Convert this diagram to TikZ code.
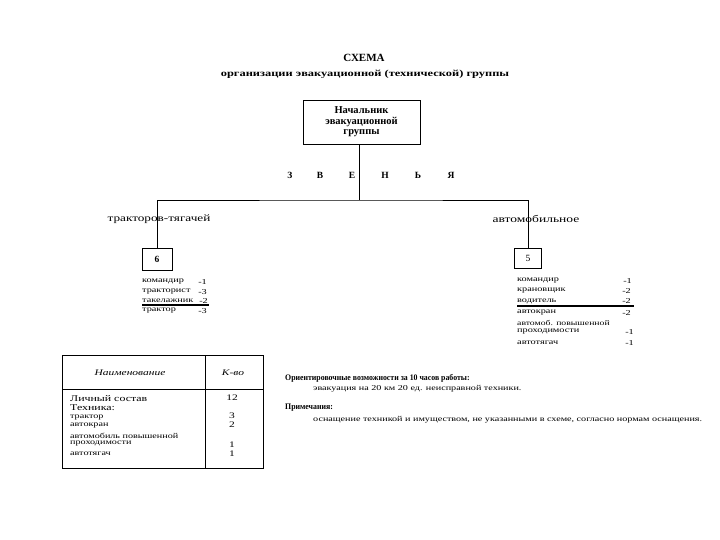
\documentclass[tikz,border=0pt]{standalone}
\usepackage{fontspec}
\setmainfont{Liberation Serif}[FakeStretch=1.35]
\newfontfamily\plainser{Liberation Serif}
\newfontfamily\condser{Liberation Serif}[FakeStretch=0.92]
\tikzset{
  box/.style={draw, line width=0.8pt, inner sep=0pt, align=center},
  lst/.style={font=\fontsize{7.6}{8}\selectfont, inner sep=0pt, anchor=west},
  num/.style={font=\fontsize{7.6}{8}\selectfont, inner sep=0pt, anchor=east},
  tbl/.style={font=\fontsize{7.5}{8}\selectfont, inner sep=0pt, anchor=west},
  tnum/.style={font=\fontsize{8.5}{9}\selectfont, inner sep=0pt},
  let/.style={font=\plainser\bfseries\fontsize{9.5}{10}\selectfont, inner sep=0pt},
  wire/.style={line width=0.7pt},
  uline/.style={line width=1.3pt}
}
\begin{document}
\begin{tikzpicture}[x=1pt,y=-1pt]
\useasboundingbox[fill=white] (0,0) rectangle (720,540);
% titles
\node[font=\plainser\bfseries\fontsize{11}{12}\selectfont, inner sep=0pt] (title) at (364,58) {СХЕМА};
\node[font=\bfseries\fontsize{9.2}{11}\selectfont, inner sep=0pt] (subtitle) at (365,74) {организации эвакуационной (технической) группы};
% chief box
\node[box, minimum width=117pt, minimum height=44pt, font=\plainser\bfseries\fontsize{10.5}{10.5}\selectfont] (chief) at (361.5,122) {Начальник\\эвакуационной\\группы};
% letters
\node[let] (l1) at (290,175) {З};
\node[let] (l2) at (320,175) {В};
\node[let] (l3) at (352,175) {Е};
\node[let] (l4) at (385,175) {Н};
\node[let] (l5) at (418,175) {Ь};
\node[let] (l6) at (451,175) {Я};
% boxes
\node[box, minimum width=30pt, minimum height=22pt, font=\plainser\bfseries\fontsize{9.5}{10}\selectfont] (b6) at (157,259) {6};
\node[box, minimum width=27pt, minimum height=20pt, font=\plainser\fontsize{9.5}{10}\selectfont] (b5) at (528,258) {5};
\coordinate (hub) at (359,200);
\draw[wire] (chief.south -| hub) -- (hub);
\draw[wire] (b6.north) |- (hub) -| (b5.north);
% branch labels
\node[font=\fontsize{9.8}{10}\selectfont, inner sep=0pt] (lblL) at (159,219) {тракторов-тягачей};
\node[font=\fontsize{10}{10}\selectfont, inner sep=0pt] (lblR) at (536,219) {автомобильное};
% left list
\node[lst] (a1) at (142,282) {командир};
\node[lst] (a2) at (142,292) {тракторист};
\node[lst] (a3) at (142,301) {такелажник};
\node[lst] (a4) at (142,311) {трактор};
\node[num] (n1) at (207,282) {-1};
\node[num] (n2) at (207,292) {-3};
\node[num] (n3) at (208,301) {-2};
\node[num] (n4) at (207,311) {-3};
\coordinate (ulA1) at (142,305);
\coordinate (ulA2) at (209,305);
\draw[uline] (ulA1) -- (ulA2);
% right list
\node[lst] (c1) at (517,281) {командир};
\node[lst] (c2) at (517,291) {крановщик};
\node[lst] (c3) at (517,301) {водитель};
\node[lst] (c4) at (517,313) {автокран};
\node[lst, font=\fontsize{7.2}{8}\selectfont] (c5) at (517,323) {автомоб. повышенной};
\node[lst] (c6) at (517,332) {проходимости};
\node[lst] (c7) at (517,343) {автотягач};
\node[num] (m1) at (632,281) {-1};
\node[num] (m2) at (631,291) {-2};
\node[num] (m3) at (631,301) {-2};
\node[num] (m4) at (631,313) {-2};
\node[num] (m6) at (634,332) {-1};
\node[num] (m7) at (634,343) {-1};
\coordinate (ulC1) at (517,306);
\coordinate (ulC2) at (634,306);
\draw[uline] (ulC1) -- (ulC2);
% table
\coordinate (t1) at (62,355);
\coordinate (t2) at (263,468);
\draw[wire] (t1) rectangle (t2);
\coordinate (tc1) at (205,355);
\coordinate (tc2) at (205,468);
\draw[wire] (tc1) -- (tc2);
\coordinate (th1) at (62,389);
\coordinate (th2) at (263,389);
\draw[wire] (th1) -- (th2);
\node[font=\itshape\fontsize{8.5}{9}\selectfont, inner sep=0pt] (hname) at (130,373) {Наименование};
\node[font=\itshape\fontsize{8.5}{9}\selectfont, inner sep=0pt] (hqty) at (233,373) {К-во};
\node[tbl, font=\fontsize{8.8}{9}\selectfont] (r1) at (70,399) {Личный состав};
\node[tbl, font=\fontsize{8.8}{9}\selectfont] (r2) at (70,407.5) {Техника:};
\node[tbl] (r3) at (70,418) {трактор};
\node[tbl] (r4) at (70,426) {автокран};
\node[tbl] (r5) at (70,436) {автомобиль повышенной};
\node[tbl] (r6) at (70,444) {проходимости};
\node[tbl] (r7) at (70,454) {автотягач};
\node[tnum] (q1) at (232,398) {12};
\node[tnum] (q3) at (232,416) {3};
\node[tnum] (q4) at (232,425) {2};
\node[tnum] (q6) at (232,445) {1};
\node[tnum] (q7) at (232,454) {1};
% notes
\node[font=\condser\bfseries\fontsize{8.5}{9}\selectfont, inner sep=0pt, anchor=west] (o1) at (285,378) {Ориентировочные возможности за 10 часов работы:};
\node[font=\fontsize{7.5}{8}\selectfont, inner sep=0pt, anchor=west] (o2) at (313,389) {эвакуация на 20 км 20 ед. неисправной техники.};
\node[font=\condser\bfseries\fontsize{8.5}{9}\selectfont, inner sep=0pt, anchor=west] (p1) at (285,408) {Примечания:};
\node[font=\fontsize{7.5}{8}\selectfont, inner sep=0pt, anchor=west] (p2) at (313,420) {оснащение техникой и имуществом, не указанными в схеме, согласно нормам оснащения.};
\end{tikzpicture}
\end{document}
